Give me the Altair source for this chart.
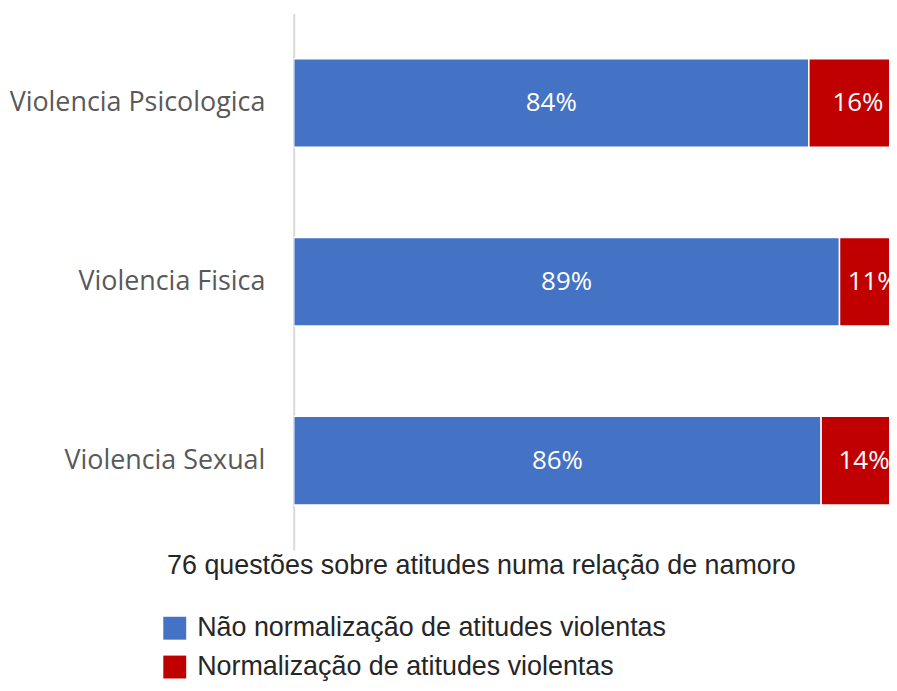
import altair as alt
import pandas as pd

categories = ["Violencia Psicologica", "Violencia Fisica", "Violencia Sexual"]
series = ["Não normalização de atitudes violentas", "Normalização de atitudes violentas"]
nao_normalizacao = [0.84, 0.89, 0.86]
normalizacao = [0.16, 0.11, 0.14]
colors = ["#4472C4", "#C00000"]
x_title = "76 questões sobre atitudes numa relação de namoro"

rows = []
for i, c in enumerate(categories):
    rows.append({"cat": c, "serie": series[0], "value": nao_normalizacao[i], "ord": 0})
    rows.append({"cat": c, "serie": series[1], "value": normalizacao[i], "ord": 1})
df = pd.DataFrame(rows)

base = alt.Chart(df).transform_stack(
    stack="value", groupby=["cat"], as_=["x0", "x1"], sort=[alt.SortField("ord")]
).transform_calculate(
    mid="(datum.x0 + datum.x1) / 2", label="format(datum.value, '.0%')"
)

# the visible part of the 0-100% axis (the right end is cut off, as in the original)
x_scale = alt.Scale(domain=[0, 0.9707], nice=False, zero=True)
y_scale = alt.Scale(paddingInner=0.5046, paddingOuter=0.2523)

y = alt.Y(
    "cat:N", sort=categories, scale=y_scale,
    axis=alt.Axis(
        title=None, labelFont="Open Sans", labelFontSize=27, labelColor="#595959",
        labelPadding=29, ticks=False, domainColor="#D9D9D9", domainWidth=2,
        minExtent=283, maxExtent=283, labelLimit=320,
    ),
)
x = alt.X(
    "x0:Q", scale=x_scale,
    axis=alt.Axis(
        labels=False, ticks=False, domain=False, grid=False, title=x_title,
        titleFont="Liberation Sans", titleFontSize=27, titleColor="#262626",
        titleFontWeight="normal", titleX=188, titleY=24, titleAlign="center",
        titleBaseline="alphabetic",
    ),
)

bars = base.mark_bar(stroke="white", strokeWidth=1.5, clip=True).encode(
    y=y, x=x, x2="x1:Q",
    color=alt.Color(
        "serie:N", scale=alt.Scale(domain=series, range=colors),
        legend=alt.Legend(
            orient="none", legendX=-133, legendY=604, title=None, direction="vertical",
            symbolType="square", symbolSize=529, symbolStrokeWidth=0, padding=0,
            labelFont="Liberation Sans", labelFontSize=27, labelColor="#262626",
            labelOffset=9, rowPadding=11, labelLimit=700,
        ),
    ),
)

text = base.mark_text(
    color="white", font="Open Sans", fontSize=26, baseline="middle", align="center",
    clip=True,
).encode(
    y=alt.Y("cat:N", sort=categories),
    x=alt.X("mid:Q"),
    text="label:N",
)

chart = (bars + text).properties(
    width=598, height=539,
    padding={"top": 4, "left": 0, "right": 0, "bottom": 0},
).configure_view(stroke=None)

chart.save("out.html", embed_options={"renderer": "svg", "actions": False})
